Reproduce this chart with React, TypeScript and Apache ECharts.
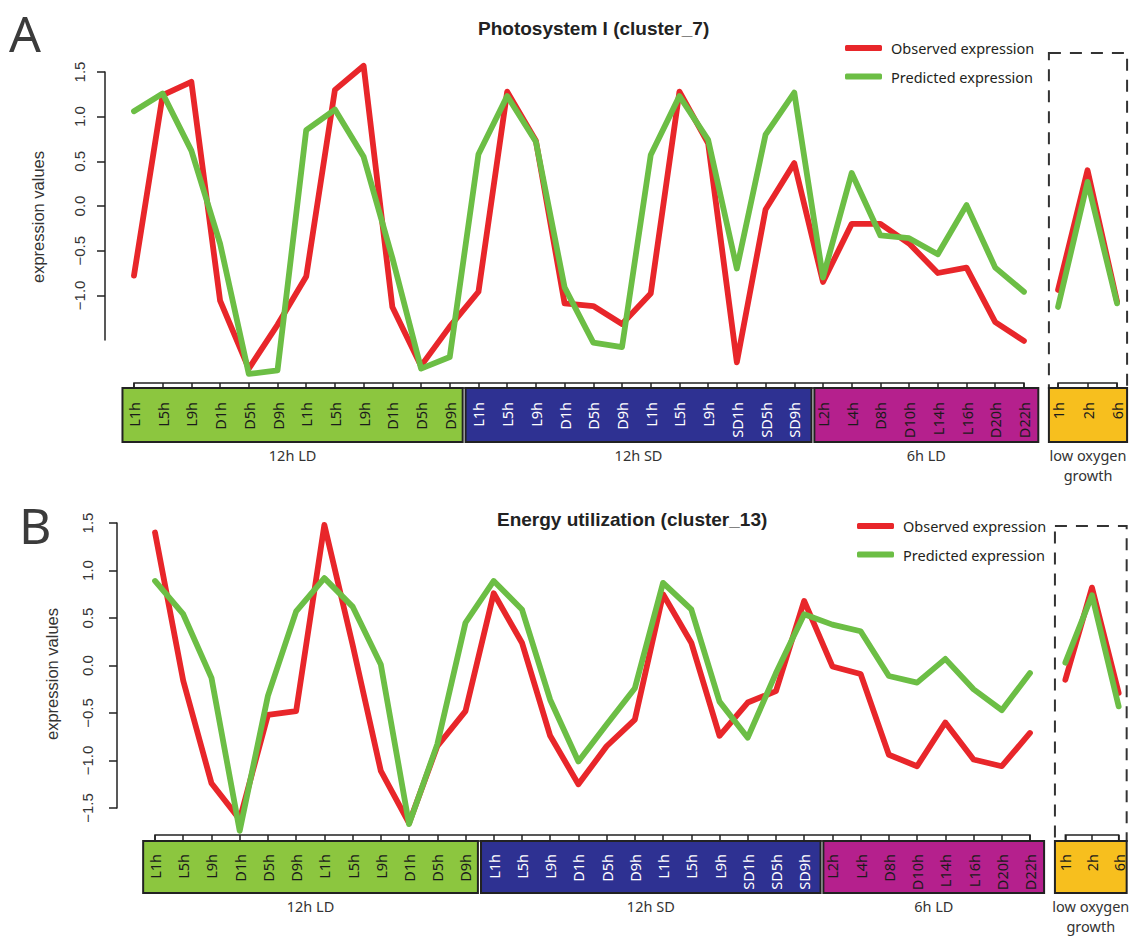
import React, { useEffect, useRef } from 'react';
import * as echarts from 'echarts';

// ---------- data ----------
const mainCategories = [
  'L1h', 'L5h', 'L9h', 'D1h', 'D5h', 'D9h', 'L1h', 'L5h', 'L9h', 'D1h', 'D5h', 'D9h',
  'L1h', 'L5h', 'L9h', 'D1h', 'D5h', 'D9h', 'L1h', 'L5h', 'L9h', 'SD1h', 'SD5h', 'SD9h',
  'L2h', 'L4h', 'D8h', 'D10h', 'L14h', 'L16h', 'D20h', 'D22h',
];
const lowOxygenCategories = ['1h', '2h', '6h'];
const groupNames = ['12h LD', '12h SD', '6h LD'];
const groupSizes = [12, 12, 8];
const lowOxygenName = 'low oxygen\ngrowth';

const yTicksA = [-1, -0.5, 0, 0.5, 1, 1.5];
const yTicksB = [-1.5, -1, -0.5, 0, 0.5, 1, 1.5];

// Panel A: Photosystem I (cluster_7)
const psObserved = [
  -0.78, 1.24, 1.39, -1.06, -1.82, -1.33, -0.79, 1.30, 1.57, -1.13, -1.79, -1.35,
  -0.96, 1.28, 0.73, -1.09, -1.12, -1.32, -0.98, 1.28, 0.70, -1.75, -0.04, 0.48,
  -0.85, -0.20, -0.20, -0.42, -0.75, -0.69, -1.30, -1.51,
];
const psPredicted = [
  1.06, 1.26, 0.62, -0.42, -1.88, -1.84, 0.85, 1.08, 0.55, -0.58, -1.82, -1.69,
  0.58, 1.23, 0.72, -0.91, -1.53, -1.58, 0.57, 1.23, 0.74, -0.70, 0.80, 1.27,
  -0.80, 0.37, -0.33, -0.36, -0.54, 0.01, -0.69, -0.96,
];
const psLowObserved = [-0.94, 0.40, -1.07];
const psLowPredicted = [-1.13, 0.27, -1.09];

// Panel B: Energy utilization (cluster_13)
const euObserved = [
  1.40, -0.16, -1.24, -1.62, -0.52, -0.48, 1.48, 0.22, -1.11, -1.66, -0.85, -0.48,
  0.76, 0.24, -0.74, -1.25, -0.85, -0.57, 0.75, 0.24, -0.74, -0.39, -0.27, 0.68,
  -0.01, -0.09, -0.94, -1.06, -0.60, -0.99, -1.06, -0.71,
];
const euPredicted = [
  0.89, 0.54, -0.13, -1.74, -0.32, 0.57, 0.92, 0.62, 0.01, -1.67, -0.83, 0.45,
  0.89, 0.59, -0.36, -1.01, -0.62, -0.24, 0.87, 0.59, -0.38, -0.76, -0.08, 0.54,
  0.43, 0.36, -0.11, -0.18, 0.07, -0.25, -0.47, -0.08,
];
const euLowObserved = [-0.15, 0.82, -0.29];
const euLowPredicted = [0.03, 0.74, -0.43];

// ---------- styles ----------
const RED = '#E8262A';
const GREEN = '#6CBE45';
const GROUP_FILLS = ['#8CC63F', '#2E3192', '#B5208D'];
const GROUP_TEXT = ['#1b1b1b', '#ffffff', '#1b1b1b'];
const LOW_FILL = '#F7BF1E';
const INK = '#222';
const SANS = 'Noto Sans';
const HELV = 'Liberation Sans';

const groupOf = (i: number) => {
  let acc = 0;
  for (let g = 0; g < groupSizes.length; g++) {
    acc += groupSizes[g];
    if (i < acc) return g;
  }
  return groupSizes.length - 1;
};

const fmtY = (v: number) => v.toFixed(1).replace('-', '\u2212');

type Layout = {
  mainLeft: number; mainWidth: number; lowLeft: number; lowWidth: number;
  top: number; height: number; yOffset: number; xOffset: number; axisY: number;
  boxTop: number; boxBottom: number; dashTop: number;
  labelMargin: number; yLabelMargin: number; nameGap: number; namePad: number;
  boxes: number[][]; lowBox: number[];
};

const layoutA: Layout = {
  mainLeft: 119.6, mainWidth: 918.7, lowLeft: 1043.3, lowWidth: 88.5,
  top: 72, height: 268, yOffset: 14.6, xOffset: 43, axisY: 383,
  boxTop: 388, boxBottom: 442, dashTop: 53,
  labelMargin: 19, yLabelMargin: 18, nameGap: 59, namePad: 22,
  boxes: [[-0.4, 11.45], [11.55, 23.6], [23.7, 31.65]], lowBox: [-0.31, 2.34],
};
const layoutB: Layout = {
  mainLeft: 140.9, mainWidth: 903.2, lowLeft: 1052, lowWidth: 84,
  top: 523, height: 285, yOffset: 23.9, xOffset: 27, axisY: 835,
  boxTop: 841, boxBottom: 893, dashTop: 526,
  labelMargin: 19, yLabelMargin: 22, nameGap: 57, namePad: 17,
  boxes: [[-0.42, 11.44], [11.55, 23.58], [23.68, 31.64]], lowBox: [-0.39, 2.3],
};

function lineSeries(name: string, color: string, xi: number, yi: number, data: number[], z: number) {
  return {
    name, type: 'line', xAxisIndex: xi, yAxisIndex: yi, data,
    symbol: 'none', showSymbol: false, clip: false, silent: true, z,
    itemStyle: { color },
    lineStyle: { color, width: 5.8, cap: 'round', join: 'round' },
  };
}

function buildPanel(k: number, L: Layout, obs: number[], pred: number[], lowObs: number[], lowPred: number[], yTicks: number[]) {
  const g0 = k * 2;
  const g1 = k * 2 + 1;
  const xb = k * 4;
  const yb = k * 2;
  const grids = [
    { left: L.mainLeft, top: L.top, width: L.mainWidth, height: L.height },
    { left: L.lowLeft, top: L.top, width: L.lowWidth, height: L.height },
  ];
  const catAxis = (gridIndex: number, data: string[], color: any) => ({
    type: 'category', gridIndex, data, boundaryGap: true, position: 'bottom',
    offset: L.xOffset, z: 6,
    axisLine: { show: false, onZero: false },
    axisTick: {
      show: true, interval: 0, alignWithLabel: true, length: L.boxTop - L.axisY,
      lineStyle: { color: INK, width: 1.5 },
    },
    axisLabel: {
      interval: 0, rotate: 90, margin: L.labelMargin,
      fontFamily: SANS, fontSize: 14.5, color,
    },
    splitLine: { show: false },
  });
  const xAxes = [
    catAxis(g0, mainCategories, (_v: any, i: number) => GROUP_TEXT[groupOf(i)]),
    { type: 'value', gridIndex: g0, min: -0.5, max: mainCategories.length - 0.5, show: false },
    catAxis(g1, lowOxygenCategories, '#1b1b1b'),
    { type: 'value', gridIndex: g1, min: -0.5, max: lowOxygenCategories.length - 0.5, show: false },
  ];
  const yAxes = [
    {
      type: 'value', gridIndex: g0, min: -1.5, max: 1.5, interval: 0.5,
      position: 'left', offset: L.yOffset,
      name: 'expression values', nameLocation: 'middle', nameGap: L.nameGap,
      nameTextStyle: { fontFamily: HELV, fontSize: 16.5, color: '#333', padding: [0, L.namePad, 0, 0] },
      axisLine: { show: true, onZero: false, lineStyle: { color: INK, width: 1.5 } },
      axisTick: { show: true, length: 8, customValues: yTicks, lineStyle: { color: INK, width: 1.5 } },
      axisLabel: {
        rotate: 90, margin: L.yLabelMargin, customValues: yTicks,
        fontFamily: HELV, fontSize: 15, color: '#333',
        formatter: (v: number) => (yTicks.indexOf(v) >= 0 ? fmtY(v) : ''),
      },
      splitLine: { show: false },
    },
    { type: 'value', gridIndex: g1, min: -1.5, max: 1.5, show: false },
  ];
  const tickRow = (n: number) => [
    { name: '', xAxis: 0, y: L.axisY, label: { show: false },
      itemStyle: { color: '#ffffff', borderColor: INK, borderWidth: 1.5 } },
    { xAxis: n - 1, y: L.boxTop },
  ];
  const boxData: any[] = groupNames.map((n, gi) => [
    { name: n, xAxis: L.boxes[gi][0], y: L.boxTop, itemStyle: { color: GROUP_FILLS[gi] } },
    { xAxis: L.boxes[gi][1], y: L.boxBottom },
  ]);
  boxData.unshift(tickRow(mainCategories.length));
  const areaLabel = {
    show: true, position: 'bottom', distance: 2, color: '#333',
    fontFamily: SANS, fontSize: 14.5, lineHeight: 20,
  };
  const series = [
    lineSeries('Observed expression', RED, xb, yb, obs, 3),
    lineSeries('Predicted expression', GREEN, xb, yb, pred, 4),
    lineSeries('Observed expression', RED, xb + 2, yb + 1, lowObs, 3),
    lineSeries('Predicted expression', GREEN, xb + 2, yb + 1, lowPred, 4),
    {
      type: 'line', xAxisIndex: xb + 1, yAxisIndex: yb, data: [], clip: false, silent: true,
      markArea: {
        silent: true,
        itemStyle: { borderColor: INK, borderWidth: 2 },
        label: areaLabel,
        data: boxData,
      },
    },
    {
      type: 'line', xAxisIndex: xb + 3, yAxisIndex: yb + 1, data: [], clip: false, silent: true,
      markArea: {
        silent: true,
        itemStyle: { borderColor: INK, borderWidth: 2 },
        label: areaLabel,
        data: [
          [
            { name: '', xAxis: L.lowBox[0], y: L.dashTop, label: { show: false },
              itemStyle: { color: 'rgba(0,0,0,0)', borderColor: '#333', borderWidth: 2, borderType: [12, 9] } },
            { xAxis: L.lowBox[1], y: L.boxTop },
          ],
          tickRow(lowOxygenCategories.length),
          [
            { name: lowOxygenName, xAxis: L.lowBox[0], y: L.boxTop, itemStyle: { color: LOW_FILL } },
            { xAxis: L.lowBox[1], y: L.boxBottom },
          ],
        ],
      },
    },
  ];
  return { grids, xAxes, yAxes, series };
}

function buildOption() {
  const a = buildPanel(0, layoutA, psObserved, psPredicted, psLowObserved, psLowPredicted, yTicksA);
  const b = buildPanel(1, layoutB, euObserved, euPredicted, euLowObserved, euLowPredicted, yTicksB);
  const legendCommon = {
    data: ['Observed expression', 'Predicted expression'],
    orient: 'vertical', padding: 0, itemGap: 12.5, itemWidth: 37, itemHeight: 6,
    icon: 'roundRect', selectedMode: false,
    textStyle: { fontFamily: SANS, fontSize: 14.5, color: '#231f20', lineHeight: 16, padding: [0, 0, 0, 4] },
  };
  const bigLetter = { fontFamily: SANS, fontSize: 50, fontWeight: 'normal', color: '#3b3b3b' };
  const titleStyle = { fontFamily: HELV, fontSize: 19, fontWeight: 'bold', color: '#222' };
  return {
    animation: false,
    backgroundColor: '#ffffff',
    textStyle: { fontFamily: SANS },
    title: [
      { text: 'A', left: 9, top: 8, padding: 0, textStyle: bigLetter },
      { text: 'Photosystem I (cluster_7)', left: 478, top: 19, padding: 0, textStyle: titleStyle },
      { text: 'B', left: 19, top: 500, padding: 0, textStyle: bigLetter },
      { text: 'Energy utilization (cluster_13)', left: 497, top: 510, padding: 0, textStyle: titleStyle },
    ],
    legend: [
      { ...legendCommon, left: 845, top: 40 },
      { ...legendCommon, left: 857, top: 518 },
    ],
    grid: [...a.grids, ...b.grids],
    xAxis: [...a.xAxes, ...b.xAxes],
    yAxis: [...a.yAxes, ...b.yAxes],
    series: [...a.series, ...b.series],
  };
}

export default function App() {
  const ref = useRef<HTMLDivElement>(null);
  useEffect(() => {
    if (!ref.current) return;
    const chart = echarts.init(ref.current, undefined, { renderer: 'svg' });
    chart.setOption(buildOption() as any);
    return () => chart.dispose();
  }, []);
  return (
    <div
      ref={ref}
      style={{ position: 'fixed', left: 0, top: 0, width: 1132, height: 937, background: '#fff' }}
    />
  );
}
